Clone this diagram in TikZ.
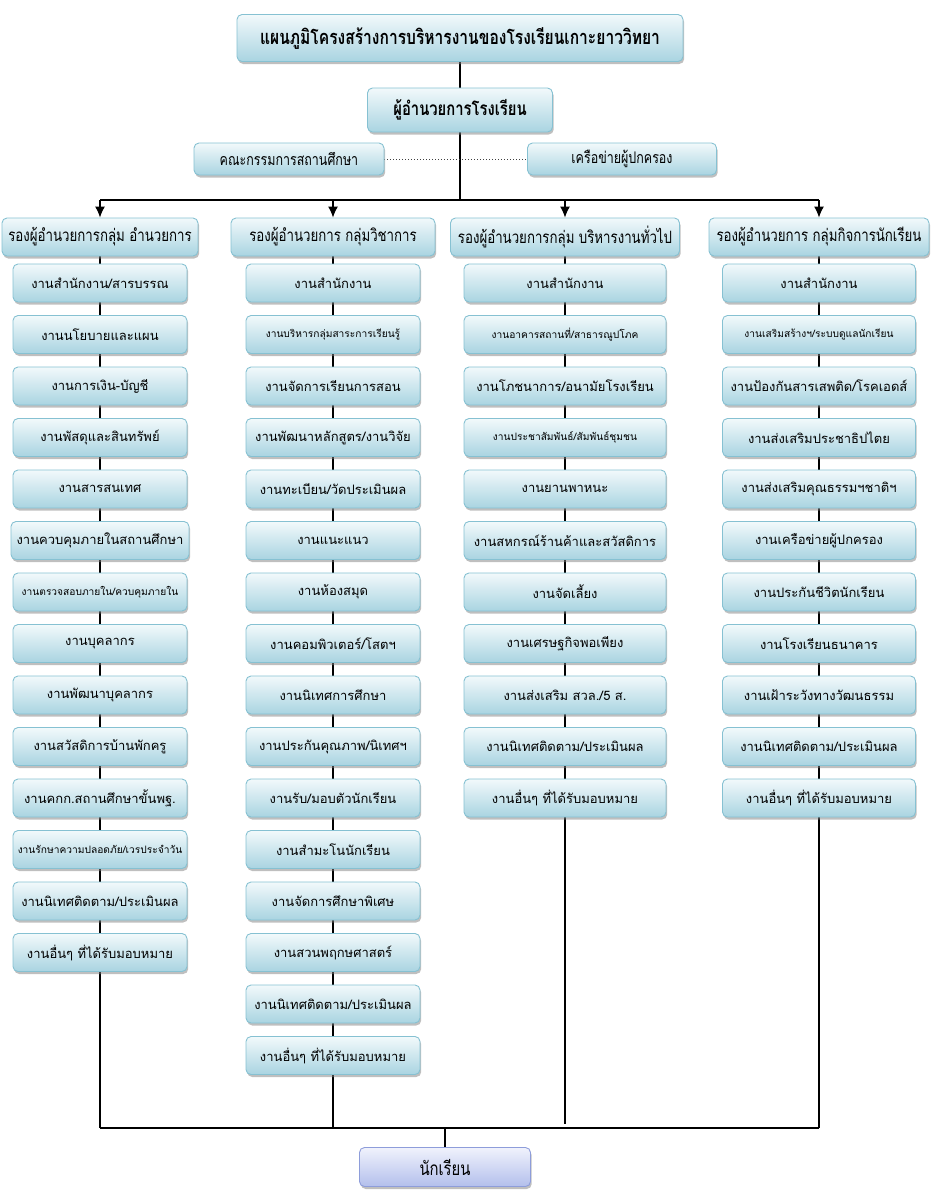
\documentclass[tikz,border=0pt]{standalone}
\usepackage{fontspec}
\setmainfont[Script=Thai]{Loma}
\newfontfamily\thainarrow[Script=Thai,FakeStretch=0.78]{Loma}
\usetikzlibrary{shadows,arrows.meta,backgrounds}

\definecolor{boxtop}{HTML}{F2F9FB}
\definecolor{boxbot}{HTML}{A9D4E1}
\definecolor{boxline}{HTML}{86C1D2}
\definecolor{stutop}{HTML}{F0F2FC}
\definecolor{stubot}{HTML}{B3BFEC}
\definecolor{stuline}{HTML}{8E9DDA}

\tikzset{
  box/.style={draw=boxline, line width=0.9pt, rounded corners=5pt,
    top color=boxtop, bottom color=boxbot, minimum height=38pt,
    inner sep=2pt, font=\fontsize{13}{15}\selectfont,
    drop shadow={shadow xshift=1.2pt, shadow yshift=-2.5pt, fill=black!50}},
  small/.style={font=\fontsize{10.2}{12}\selectfont},
  headbox/.style={box, font=\thainarrow\fontsize{17}{19}\selectfont},
  link/.style={line width=1.3pt},
  bar/.style={line width=1.9pt},
  tip/.style={-{Latex[length=11pt,width=10pt]}}
}

\begin{document}
\begin{tikzpicture}[x=1pt,y=-1pt]
\useasboundingbox (0,0) rectangle (939,1200);

% top of the chart
\node[box, minimum width=446pt, minimum height=47pt, font=\thainarrow\bfseries\fontsize{20}{23}\selectfont] (title) at (460,38) {แผนภูมิโครงสร้างการบริหารงานของโรงเรียนเกาะยาววิทยา};
\node[box, minimum width=185pt, minimum height=44pt, font=\thainarrow\bfseries\fontsize{19}{22}\selectfont] (dir) at (460,110) {ผู้อำนวยการโรงเรียน};
\node[box, minimum width=190pt, minimum height=32pt, font=\thainarrow\fontsize{16}{18}\selectfont] (comm) at (289,159) {คณะกรรมการสถานศึกษา};
\node[box, minimum width=189pt, minimum height=32pt, font=\thainarrow\fontsize{16}{18}\selectfont] (net) at (622,159) {เครือข่ายผู้ปกครอง};

\coordinate (t1) at (100,200);
\coordinate (t2) at (333,200);
\coordinate (t3) at (565,200);
\coordinate (t4) at (819,200);
\coordinate (tm) at (460,200);

% group heads
\node[headbox, minimum width=196pt] (h1) at (100,237) {รองผู้อำนวยการกลุ่ม อำนวยการ};
\node[headbox, minimum width=204pt] (h2) at (333,237) {รองผู้อำนวยการ กลุ่มวิชาการ};
\node[headbox, minimum width=229pt] (h3) at (565,237) {รองผู้อำนวยการกลุ่ม บริหารงานทั่วไป};
\node[headbox, minimum width=220pt] (h4) at (819,237) {รองผู้อำนวยการ กลุ่มกิจการนักเรียน};

% group 1
\node[box, minimum width=174pt] (a1) at (100,283) {งานสำนักงาน/สารบรรณ};
\node[box, minimum width=174pt] (a2) at (100,334.5) {งานนโยบายและแผน};
\node[box, minimum width=174pt] (a3) at (100,386) {งานการเงิน-บัญชี};
\node[box, minimum width=174pt] (a4) at (100,437.5) {งานพัสดุและสินทรัพย์};
\node[box, minimum width=174pt] (a5) at (100,489) {งานสารสนเทศ};
\node[box, minimum width=178pt] (a6) at (100,540.5) {งานควบคุมภายในสถานศึกษา};
\node[box, small, minimum width=174pt] (a7) at (100,592) {งานตรวจสอบภายใน/ควบคุมภายใน};
\node[box, minimum width=174pt] (a8) at (100,643.5) {งานบุคลากร};
\node[box, minimum width=174pt] (a9) at (100,695) {งานพัฒนาบุคลากร};
\node[box, minimum width=174pt] (a10) at (100,746.5) {งานสวัสดิการบ้านพักครู};
\node[box, minimum width=174pt] (a11) at (100,798) {งานคกก.สถานศึกษาขั้นพฐ.};
\node[box, small, minimum width=174pt] (a12) at (100,849.5) {งานรักษาความปลอดภัย/เวรประจำวัน};
\node[box, minimum width=174pt] (a13) at (100,901) {งานนิเทศติดตาม/ประเมินผล};
\node[box, minimum width=174pt] (a14) at (100,952.5) {งานอื่นๆ ที่ได้รับมอบหมาย};

% group 2
\node[box, minimum width=174pt] (b1) at (333,283) {งานสำนักงาน};
\node[box, small, minimum width=174pt] (b2) at (333,334.5) {งานบริหารกลุ่มสาระการเรียนรู้};
\node[box, minimum width=174pt] (b3) at (333,386) {งานจัดการเรียนการสอน};
\node[box, minimum width=174pt] (b4) at (333,437.5) {งานพัฒนาหลักสูตร/งานวิจัย};
\node[box, minimum width=174pt] (b5) at (333,489) {งานทะเบียน/วัดประเมินผล};
\node[box, minimum width=174pt] (b6) at (333,540.5) {งานแนะแนว};
\node[box, minimum width=174pt] (b7) at (333,592) {งานห้องสมุด};
\node[box, minimum width=174pt] (b8) at (333,643.5) {งานคอมพิวเตอร์/โสตฯ};
\node[box, minimum width=174pt] (b9) at (333,695) {งานนิเทศการศึกษา};
\node[box, minimum width=174pt] (b10) at (333,746.5) {งานประกันคุณภาพ/นิเทศฯ};
\node[box, minimum width=174pt] (b11) at (333,798) {งานรับ/มอบตัวนักเรียน};
\node[box, minimum width=174pt] (b12) at (333,849.5) {งานสำมะโนนักเรียน};
\node[box, minimum width=174pt] (b13) at (333,901) {งานจัดการศึกษาพิเศษ};
\node[box, minimum width=174pt] (b14) at (333,952.5) {งานสวนพฤกษศาสตร์};
\node[box, minimum width=174pt] (b15) at (333,1004) {งานนิเทศติดตาม/ประเมินผล};
\node[box, minimum width=174pt] (b16) at (333,1055.5) {งานอื่นๆ ที่ได้รับมอบหมาย};

% group 3
\node[box, minimum width=202pt] (c1) at (565,283) {งานสำนักงาน};
\node[box, small, minimum width=202pt] (c2) at (565,334.5) {งานอาคารสถานที่/สาธารณูปโภค};
\node[box, minimum width=202pt] (c3) at (565,386) {งานโภชนาการ/อนามัยโรงเรียน};
\node[box, small, minimum width=202pt] (c4) at (565,437.5) {งานประชาสัมพันธ์/สัมพันธ์ชุมชน};
\node[box, minimum width=202pt] (c5) at (565,489) {งานยานพาหนะ};
\node[box, minimum width=202pt] (c6) at (565,540.5) {งานสหกรณ์ร้านค้าและสวัสดิการ};
\node[box, minimum width=202pt] (c7) at (565,592) {งานจัดเลี้ยง};
\node[box, minimum width=202pt] (c8) at (565,643.5) {งานเศรษฐกิจพอเพียง};
\node[box, minimum width=202pt] (c9) at (565,695) {งานส่งเสริม สวล./5 ส.};
\node[box, minimum width=202pt] (c10) at (565,746.5) {งานนิเทศติดตาม/ประเมินผล};
\node[box, minimum width=202pt] (c11) at (565,798) {งานอื่นๆ ที่ได้รับมอบหมาย};

% group 4
\node[box, minimum width=193pt] (d1) at (819,283) {งานสำนักงาน};
\node[box, small, minimum width=193pt] (d2) at (819,334.5) {งานเสริมสร้างฯ/ระบบดูแลนักเรียน};
\node[box, minimum width=193pt] (d3) at (819,386) {งานป้องกันสารเสพติด/โรคเอดส์};
\node[box, minimum width=193pt] (d4) at (819,437.5) {งานส่งเสริมประชาธิปไตย};
\node[box, minimum width=193pt] (d5) at (819,489) {งานส่งเสริมคุณธรรมฯชาติฯ};
\node[box, minimum width=193pt] (d6) at (819,540.5) {งานเครือข่ายผู้ปกครอง};
\node[box, minimum width=193pt] (d7) at (819,592) {งานประกันชีวิตนักเรียน};
\node[box, minimum width=193pt] (d8) at (819,643.5) {งานโรงเรียนธนาคาร};
\node[box, minimum width=193pt] (d9) at (819,695) {งานเฝ้าระวังทางวัฒนธรรม};
\node[box, minimum width=193pt] (d10) at (819,746.5) {งานนิเทศติดตาม/ประเมินผล};
\node[box, minimum width=193pt] (d11) at (819,798) {งานอื่นๆ ที่ได้รับมอบหมาย};

% bottom
\coordinate (e1) at (100,1128);
\coordinate (e2) at (333,1128);
\coordinate (e3) at (565,1124);
\coordinate (e4) at (819,1128);
\coordinate (em) at (445,1128);
\node[box, draw=stuline, top color=stutop, bottom color=stubot, minimum width=171pt, minimum height=39pt, font=\thainarrow\fontsize{19}{21}\selectfont] (stu) at (445,1167) {นักเรียน};

\begin{scope}[on background layer]
  \draw[link] (title) -- (dir);
  \draw[link] (dir) -- (tm);
  \draw[line width=1pt, dotted, black!75] (comm) -- (net);
  \draw[link] (h1) -- (e1);
  \draw[link] (h2) -- (e2);
  \draw[link] (h3) -- (e3);
  \draw[link] (h4) -- (e4);
  \draw[link] (em) -- (stu);
\end{scope}

\draw[bar] (t1) -- (t4);
\draw[link, tip] (t1) -- (h1);
\draw[link, tip] (t2) -- (h2);
\draw[link, tip] (t3) -- (h3);
\draw[link, tip] (t4) -- (h4);
\draw[bar] (e1) -- (e4);
\end{tikzpicture}
\end{document}
